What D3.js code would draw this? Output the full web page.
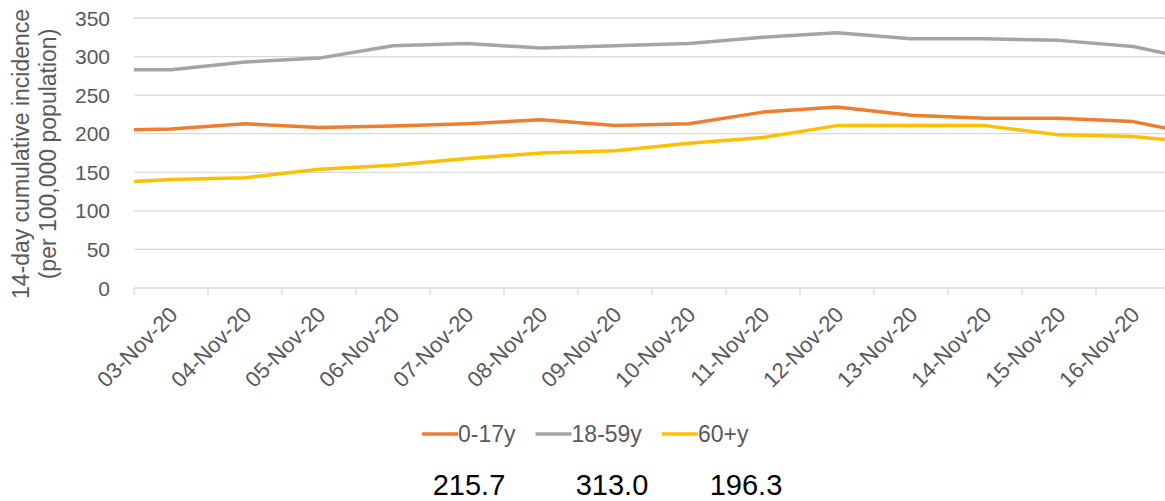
<!DOCTYPE html>
<html>
<head>
<meta charset="utf-8">
<script src="https://cdnjs.cloudflare.com/ajax/libs/d3/7.8.5/d3.min.js"></script>
<style>
  body { margin: 0; background: #fff; }
  text { font-family: "Liberation Sans", Arial, sans-serif; }
</style>
</head>
<body>
<script>
// dates on the category axis
var dates = ["03-Nov-20", "04-Nov-20", "05-Nov-20", "06-Nov-20", "07-Nov-20", "08-Nov-20", "09-Nov-20",
             "10-Nov-20", "11-Nov-20", "12-Nov-20", "13-Nov-20", "14-Nov-20", "15-Nov-20", "16-Nov-20"]

var seriesNames = ["0-17y", "18-59y", "60+y"]
var seriesColors = ["#ED7D31", "#A5A5A5", "#FFC000"]

// 14-day cumulative incidence per 100,000, one value per date
var young = [206, 213, 208, 210, 213, 218, 210.5, 213, 228, 234.5, 224, 220, 220, 215.7]
var adults = [283, 293, 298, 314, 317, 311, 314, 317, 325, 331, 323, 323, 321, 313.0]
var elderly = [140.7, 143, 154, 159, 168, 175, 178, 187.5, 195, 210.5, 210.5, 210.5, 198.5, 196.3]

// where the lines cross the left and right border of the plot area
var leftEdge = [205, 283, 138]
var rightEdge = [206, 303, 192]

var yTicks = [0, 50, 100, 150, 200, 250, 300, 350]

var width = 1165, height = 501
var margins = {top: 18, left: 134, bottom: 213}
var plotRight = 1170

var svg = d3.select("body")
            .append("svg")
            .attr("width", width)
            .attr("height", height)

var x = d3.scaleLinear().domain([-0.5, dates.length - 0.5]).range([margins.left, plotRight])
var y = d3.scaleLinear().domain([0, 350]).range([height - margins.bottom, margins.top])

// gridlines
svg.append("g")
   .selectAll("line")
   .data(yTicks.slice(1))
   .enter().append("line")
   .attr("x1", margins.left)
   .attr("x2", plotRight)
   .attr("y1", function(d) { return y(d); })
   .attr("y2", function(d) { return y(d); })
   .style("stroke", "#d9d9d9")
   .style("stroke-width", 1.3)

// y axis labels
svg.append("g")
   .selectAll("text")
   .data(yTicks)
   .enter().append("text")
   .attr("x", 110)
   .attr("y", function(d) { return y(d); })
   .attr("dy", "0.36em")
   .style("text-anchor", "end")
   .style("font-size", "21px")
   .style("fill", "#595959")
   .text(function(d) { return d; })

// x axis with ticks between categories
var xAxis = svg.append("g")
   .attr("transform", "translate(0," + y(0) + ")")

xAxis.append("line")
     .attr("x1", margins.left)
     .attr("x2", plotRight)
     .style("stroke", "#d9d9d9")
     .style("stroke-width", 1.3)

xAxis.selectAll("line.tick")
     .data(d3.range(dates.length + 1))
     .enter().append("line")
     .attr("class", "tick")
     .attr("x1", function(d) { return x(d - 0.5); })
     .attr("x2", function(d) { return x(d - 0.5); })
     .attr("y1", 0)
     .attr("y2", 7)
     .style("stroke", "#d9d9d9")
     .style("stroke-width", 1.3)

xAxis.selectAll("text")
     .data(dates)
     .enter().append("text")
     .attr("transform", function(d, i) {
       return "translate(" + (x(i) + 8) + ",28) rotate(-45)";
     })
     .style("text-anchor", "end")
     .style("font-size", "22px")
     .style("fill", "#595959")
     .text(function(d) { return d; })

// y axis title
svg.append("text")
   .attr("transform", "translate(0," + 154 + ") rotate(-90)")
   .style("text-anchor", "middle")
   .style("font-size", "23px")
   .style("fill", "#595959")
   .selectAll("tspan")
   .data(["14-day cumulative incidence", "(per 100,000 population)"])
   .enter().append("tspan")
   .attr("x", 0)
   .attr("y", function(d, i) { return 29 + i * 27; })
   .text(function(d) { return d; })

// lines
var allSeries = [young, adults, elderly]
var line = d3.line()
             .x(function(d) { return x(d.i); })
             .y(function(d) { return y(d.v); })

svg.append("g")
   .selectAll("path")
   .data(allSeries)
   .enter().append("path")
   .attr("d", function(values, s) {
     var pts = [{i: -0.5, v: leftEdge[s]}]
     values.forEach(function(v, i) { pts.push({i: i, v: v}) })
     pts.push({i: dates.length - 0.5, v: rightEdge[s]})
     return line(pts)
   })
   .style("fill", "none")
   .style("stroke", function(d, s) { return seriesColors[s]; })
   .style("stroke-width", 3.5)
   .style("stroke-linejoin", "round")

// legend
var legendX = 422, legendY = 434
seriesNames.forEach(function(name, s) {
  svg.append("line")
     .attr("x1", legendX)
     .attr("x2", legendX + 36)
     .attr("y1", legendY)
     .attr("y2", legendY)
     .style("stroke", seriesColors[s])
     .style("stroke-width", 3.5)
  var t = svg.append("text")
     .attr("x", legendX + 36)
     .attr("y", legendY)
     .attr("dy", "0.36em")
     .style("font-size", "23px")
     .style("fill", "#595959")
     .text(name)
  legendX += 36 + t.node().getComputedTextLength() + 20
})

// latest values below the chart
var latestX = [469, 612, 746]
svg.append("g")
   .selectAll("text")
   .data(allSeries)
   .enter().append("text")
   .attr("x", function(d, s) { return latestX[s]; })
   .attr("y", 495)
   .style("text-anchor", "middle")
   .style("font-size", "29px")
   .style("fill", "#000")
   .text(function(d) { return d[d.length - 1].toFixed(1); })
</script>
</body>
</html>
